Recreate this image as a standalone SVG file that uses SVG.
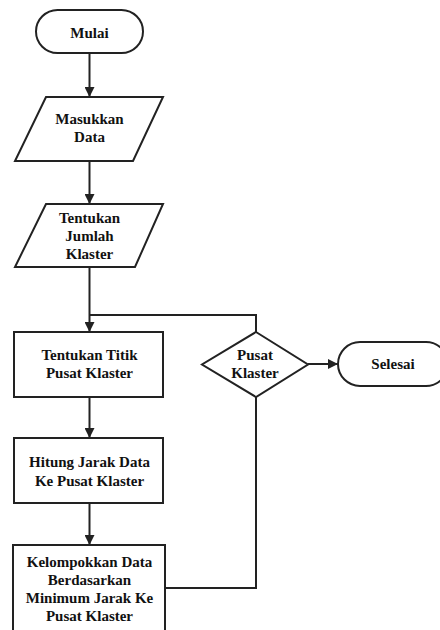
<svg xmlns="http://www.w3.org/2000/svg" width="440" height="630" viewBox="0 0 440 630">
<defs>
<marker id="ah" viewBox="0 0 10 10" refX="10" refY="5" markerWidth="10" markerHeight="10" markerUnits="userSpaceOnUse" orient="auto">
<path d="M0,0 L10,5 L0,10 Z" fill="#222"/>
</marker>
<style>
.s{fill:#fff;stroke:#222;stroke-width:2}
.c{fill:none;stroke:#222;stroke-width:2}
.t{font-family:'Liberation Serif','Times New Roman',Times,'DejaVu Serif',serif;font-weight:bold;font-size:15px;fill:#111;text-anchor:middle}
</style>
</defs>
<rect width="440" height="630" fill="#fff"/>
<g id="connectors">
<line class="c" x1="89.5" y1="53" x2="89.5" y2="97" marker-end="url(#ah)"/>
<line class="c" x1="89.5" y1="161" x2="89.5" y2="204" marker-end="url(#ah)"/>
<line class="c" x1="89.5" y1="267" x2="89.5" y2="332" marker-end="url(#ah)"/>
<polyline class="c" points="256,332 256,315 89.5,315"/>
<line class="c" x1="89.5" y1="397" x2="89.5" y2="438" marker-end="url(#ah)"/>
<line class="c" x1="89.5" y1="503" x2="89.5" y2="545" marker-end="url(#ah)"/>
<polyline class="c" points="165,588 256,588 256,397"/>
<line class="c" x1="308" y1="364" x2="338" y2="364" marker-end="url(#ah)"/>
</g>
<g id="mulai">
<rect class="s" x="36" y="10" width="107" height="43" rx="21.5"/>
<text class="t" x="89.5" y="38" font-family="Liberation Serif, serif">Mulai</text>
</g>
<g id="masukkan-data">
<polygon class="s" points="46,97 163,97 133,161 15,161"/>
<text class="t" x="89.5" y="124">Masukkan</text>
<text class="t" x="89.5" y="142">Data</text>
</g>
<g id="tentukan-jumlah">
<polygon class="s" points="46,204 163,204 135,267 15,267"/>
<text class="t" x="89.5" y="223">Tentukan</text>
<text class="t" x="89.5" y="241">Jumlah</text>
<text class="t" x="89.5" y="259">Klaster</text>
</g>
<g id="tentukan-titik">
<rect class="s" x="14" y="332" width="149" height="65"/>
<text class="t" x="89.5" y="360">Tentukan Titik</text>
<text class="t" x="89.5" y="378">Pusat Klaster</text>
</g>
<g id="hitung-jarak">
<rect class="s" x="14" y="438" width="149" height="65"/>
<text class="t" x="89.5" y="467">Hitung Jarak Data</text>
<text class="t" x="89.5" y="486">Ke Pusat Klaster</text>
</g>
<g id="kelompokkan">
<rect class="s" x="13" y="545" width="152" height="92"/>
<text class="t" x="89.5" y="567">Kelompokkan Data</text>
<text class="t" x="89.5" y="585">Berdasarkan</text>
<text class="t" x="89.5" y="603">Minimum Jarak Ke</text>
<text class="t" x="89.5" y="621">Pusat Klaster</text>
</g>
<g id="pusat-klaster">
<polygon class="s" points="256,332 308,364.5 256,397 202,364.5"/>
<text class="t" x="255" y="360">Pusat</text>
<text class="t" x="255" y="378">Klaster</text>
</g>
<g id="selesai">
<rect class="s" x="338" y="342" width="110" height="44" rx="22"/>
<text class="t" x="393" y="369">Selesai</text>
</g>
</svg>
